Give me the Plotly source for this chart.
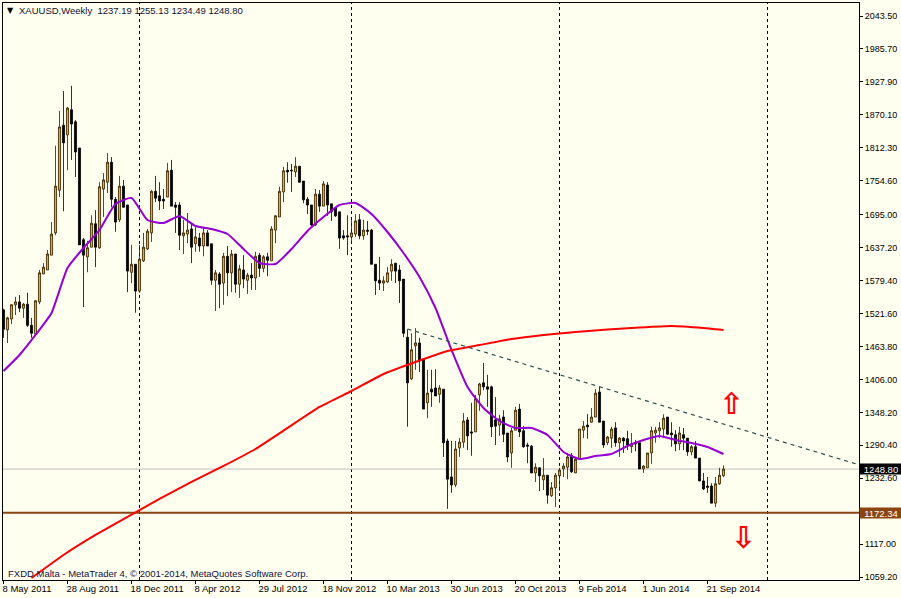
import pandas as pd
import plotly.graph_objects as go

symbol_line = "XAUUSD,Weekly  1237.19 1255.13 1234.49 1248.80"
footer_text = "FXDD Malta - MetaTrader 4, © 2001-2014, MetaQuotes Software Corp."

week_start = "2011-05-08"
n_weeks = 181

opens = [1528,1493,1512,1537,1542,1531,1538,1501,1486,1542,1591,1598,1624,1663,1738,1852,1835,1879,1858,1812,
1651,1621,1638,1679,1637,1740,1752,1787,1722,1686,1745,1712,1594,1608,1561,1614,1635,1663,1736,1728,
1722,1726,1773,1712,1712,1658,1661,1670,1644,1654,1640,1663,1644,1580,1591,1575,1622,1593,1626,1573,
1598,1580,1589,1584,1624,1601,1621,1614,1668,1691,1735,1773,1773,1770,1780,1754,1722,1712,1677,1731,
1710,1747,1714,1707,1700,1658,1658,1656,1661,1686,1658,1668,1668,1608,1580,1575,1577,1596,1610,1598,
1582,1480,1407,1465,1470,1442,1365,1389,1391,1380,1389,1298,1235,1221,1286,1296,1335,1314,1314,1379,
1400,1393,1393,1335,1326,1340,1312,1277,1317,1354,1316,1291,1289,1242,1251,1230,1238,1202,1216,1237,
1249,1252,1273,1242,1266,1317,1326,1331,1340,1384,1333,1295,1303,1321,1295,1303,1302,1288,1295,1295,
1249,1251,1277,1312,1316,1319,1340,1312,1309,1293,1309,1303,1279,1288,1268,1228,1219,1219,1189,1223,1237.19]
highs = [1530,1516,1538,1551,1554,1540,1558,1514,1545,1598,1610,1633,1682,1816,1877,1912,1884,1921,1861,1812,
1654,1649,1694,1703,1752,1768,1803,1796,1726,1763,1756,1712,1642,1608,1642,1663,1670,1738,1763,1752,
1740,1786,1791,1717,1717,1686,1698,1680,1673,1663,1672,1668,1644,1598,1594,1628,1640,1633,1626,1607,
1624,1593,1610,1630,1628,1624,1628,1675,1694,1744,1779,1787,1784,1796,1780,1754,1726,1712,1740,1738,
1754,1752,1714,1708,1700,1668,1694,1686,1696,1696,1686,1684,1670,1608,1621,1587,1603,1617,1610,1607,
1582,1494,1487,1496,1479,1442,1423,1423,1424,1396,1389,1302,1298,1298,1303,1347,1340,1365,1379,1400,
1435,1414,1395,1375,1344,1352,1312,1321,1358,1363,1324,1295,1291,1259,1252,1268,1238,1226,1242,1251,
1259,1277,1277,1270,1319,1333,1345,1356,1389,1393,1333,1307,1323,1331,1305,1305,1316,1312,1300,1296,
1256,1277,1323,1323,1331,1345,1340,1331,1317,1323,1321,1303,1291,1298,1268,1242,1235,1224,1235,1251,1255.13]
lows = [1479,1470,1503,1519,1524,1514,1498,1479,1484,1538,1591,1598,1624,1659,1726,1701,1773,1791,1761,1642,
1533,1594,1638,1603,1635,1691,1733,1708,1665,1682,1708,1559,1575,1523,1558,1612,1633,1647,1717,1703,
1705,1726,1710,1663,1633,1626,1645,1610,1630,1630,1622,1640,1572,1526,1531,1537,1552,1559,1558,1549,
1566,1556,1563,1563,1586,1594,1587,1614,1645,1691,1717,1751,1735,1761,1751,1715,1696,1675,1675,1700,
1710,1693,1684,1691,1635,1651,1624,1644,1656,1652,1651,1659,1608,1554,1563,1561,1575,1579,1575,1540,
1480,1323,1405,1423,1419,1354,1338,1358,1377,1365,1270,1179,1207,1217,1270,1286,1282,1272,1314,1351,
1387,1358,1305,1291,1307,1296,1261,1251,1317,1305,1286,1259,1242,1226,1210,1212,1188,1200,1182,1210,
1235,1231,1242,1242,1266,1303,1302,1330,1340,1331,1286,1291,1286,1288,1270,1277,1282,1277,1280,1249,
1242,1251,1258,1295,1303,1303,1309,1288,1280,1282,1282,1272,1273,1268,1228,1212,1207,1189,1182,1221,1234.49]
closes = [1494,1514,1537,1542,1531,1538,1501,1487,1544,1593,1603,1626,1661,1745,1849,1821,1882,1854,1805,1642,
1624,1637,1680,1638,1744,1756,1787,1722,1682,1745,1708,1596,1608,1561,1617,1638,1666,1736,1724,1719,
1719,1772,1710,1708,1659,1663,1668,1638,1656,1640,1663,1640,1580,1593,1573,1622,1593,1626,1573,1600,
1582,1589,1584,1622,1601,1621,1615,1670,1693,1736,1772,1770,1772,1780,1752,1721,1712,1677,1731,1710,
1749,1712,1700,1693,1654,1654,1656,1663,1684,1658,1668,1666,1608,1579,1575,1579,1593,1608,1596,1579,
1487,1400,1458,1470,1440,1354,1382,1384,1377,1391,1295,1231,1221,1284,1296,1333,1307,1312,1372,1398,
1393,1389,1323,1324,1337,1310,1270,1316,1352,1314,1288,1289,1242,1252,1237,1238,1203,1216,1238,1247,
1254,1270,1244,1266,1319,1324,1323,1340,1382,1331,1291,1305,1319,1295,1303,1298,1291,1293,1293,1249,
1254,1277,1316,1317,1321,1338,1310,1309,1293,1312,1303,1279,1288,1268,1228,1214,1217,1189,1223,1238,1248.80]

ma_fast = [1420.8,1448.9,1484,1522.6,1601.5,1636.6,1668.1,1713.8,1724.3,1685.7,1680.4,1692.7,1675.2,1669.9,1661.1,1634.8,
1610.3,1608.5,1634.8,1666.4,1690.9,1712,1715.5,1696.2,1664.6,1627.8,1585.7,1531.3,1457.7,1392.8,1355.9,1333.1,
1320.9,1320.9,1308.6,1278.8,1266.5,1271.7,1275.2,1289.3,1299.8,1306.8,1299.8,1294.5,1287.5,1275.2]
ma_slow = [1057.8,1098.1,1133.2,1164.8,1196.3,1226.2,1254.2,1284,1320.9,1357.7,1385.7,1415.6,1436.6,1455.9,1466.4,1477,
1484,1489.2,1493.6,1497.1,1499.8,1496.3,1492.7]

trend_dates = ["2013-04-14", "2015-06-14"]
trend_prices = [1494.5, 1256.0]

support_level = 1172.34
last_price = 1248.80
separator_dates = ["2012-01-01", "2013-01-06", "2014-01-05", "2015-01-04"]

price_ticks = [2043.50,1985.70,1927.90,1870.10,1812.30,1754.60,1695.00,1637.20,1579.40,1521.60,1463.80,1406.00,
               1348.20,1290.40,1232.60,1117.00,1059.20]
date_ticks = ["2011-05-08","2011-08-28","2011-12-18","2012-04-08","2012-07-29","2012-11-18","2013-03-10",
              "2013-06-30","2013-10-20","2014-02-09","2014-06-01","2014-09-21"]
date_labels = ["8 May 2011","28 Aug 2011","18 Dec 2011","8 Apr 2012","29 Jul 2012","18 Nov 2012","10 Mar 2013",
               "30 Jun 2013","20 Oct 2013","9 Feb 2014","1 Jun 2014","21 Sep 2014"]

arrow_dates = ["2014-11-02", "2014-11-23"]
arrow_prices = [1364.0, 1129.0]
arrow_glyphs = ["⇧", "⇩"]

weeks = pd.date_range(week_start, periods=n_weeks, freq="7D")
fast_x = weeks[0::4]
slow_x = list(weeks[7::8]) + [weeks[-1]]

IVORY = "#FFFFF0"
XFONT = dict(family="Liberation Sans, Arial, sans-serif", size=9.5, color="#000000")
YFONT = dict(family="Liberation Sans, Arial, sans-serif", size=9, color="#000000")

fig = go.Figure()
fig.add_trace(go.Candlestick(
    x=weeks, open=opens, high=highs, low=lows, close=closes,
    increasing=dict(line=dict(color="#2A1A00", width=0.8), fillcolor="#FFA500"),
    decreasing=dict(line=dict(color="#000000", width=0.8), fillcolor="#000000"),
    whiskerwidth=0, hoverinfo="skip", showlegend=False))
fig.add_trace(go.Scatter(x=fast_x, y=ma_fast, mode="lines", showlegend=False, hoverinfo="skip",
                         line=dict(color="#9400D3", width=2, shape="spline", smoothing=0.5)))
fig.add_trace(go.Scatter(x=slow_x, y=ma_slow, mode="lines", showlegend=False, hoverinfo="skip",
                         line=dict(color="#FF0000", width=2, shape="spline", smoothing=0.3)))
fig.add_trace(go.Scatter(x=trend_dates, y=trend_prices, mode="lines", showlegend=False, hoverinfo="skip",
                         line=dict(color="#2F4F4F", width=1.2, dash="4px,4px")))

shapes = []
for d in separator_dates:
    shapes.append(dict(type="line", xref="x", yref="paper", x0=d, x1=d, y0=0, y1=1, layer="below",
                       line=dict(color="#000000", width=1, dash="3px,3px")))
shapes.append(dict(type="line", xref="paper", yref="y", x0=0, x1=1, y0=last_price, y1=last_price, layer="below",
                   line=dict(color="#C0C0C0", width=1)))
shapes.append(dict(type="line", xref="paper", yref="y", x0=0, x1=1, y0=support_level, y1=support_level, layer="below",
                   line=dict(color="#8B4513", width=2)))

W, H, L, R, T, B = 901, 598, 3, 42, 3, 18
pw, ph = W - L - R, H - T - B

def px(x):
    return (x - L) / pw

def py(y):
    return 1 - (y - T) / ph

annotations = [
    dict(xref="paper", yref="paper", x=px(16.5), y=py(10.5), xanchor="left", yanchor="middle", showarrow=False,
         text=symbol_line.replace("  ", "&nbsp;&nbsp;"), font=dict(family="Liberation Sans", size=9.5, color="#101030")),
    dict(xref="paper", yref="paper", x=px(10), y=py(10), xanchor="center", yanchor="middle", showarrow=False,
         text="▼", font=dict(family="DejaVu Sans", size=8, color="#000000")),
    dict(xref="paper", yref="paper", x=px(5.5), y=py(573), xanchor="left", yanchor="middle", showarrow=False,
         text=footer_text, font=dict(family="Liberation Sans", size=9.5, color="#101040")),
    dict(xref="paper", yref="y", x=px(859), y=last_price, xanchor="left", yanchor="middle", showarrow=False,
         text=f"{last_price:.2f}", bgcolor="#000000", width=42, height=10, borderpad=0, align="center",
         font=dict(family="Liberation Sans", size=9.5, color="#FFFFFF")),
    dict(xref="paper", yref="y", x=px(859), y=support_level, xanchor="left", yanchor="middle", showarrow=False,
         text=f"{support_level:.2f}", bgcolor="#8B4513", width=42, height=10, borderpad=0, align="center",
         font=dict(family="Liberation Sans", size=9.5, color="#FFFFFF")),
]
for d, p, g in zip(arrow_dates, arrow_prices, arrow_glyphs):
    annotations.append(dict(x=d, y=p, xref="x", yref="y", showarrow=False, text=f"<b>{g}</b>", xanchor="center", yanchor="middle",
                            font=dict(family="DejaVu Sans", size=30, color="#FF0000")))

fig.update_layout(
    width=W, height=H, margin=dict(l=L, r=R, t=T, b=B, pad=0, autoexpand=False),
    paper_bgcolor=IVORY, plot_bgcolor=IVORY, boxgap=0.25, showlegend=False,
    shapes=shapes, annotations=annotations,
    xaxis=dict(type="date", range=["2011-05-07 03:00", "2015-06-13 03:00"], rangeslider=dict(visible=False),
               showgrid=False, zeroline=False, showline=True, mirror=True, linecolor="#000000", linewidth=1,
               ticks="outside", ticklen=3, tickcolor="#000000", tickvals=date_ticks, ticktext=date_labels,
               ticklabelposition="outside right", ticklabelshift=-2, tickangle=0, automargin=False, tickfont=XFONT),
    yaxis=dict(side="right", range=[1054.2, 2066.3], showgrid=False, zeroline=False, showline=True, mirror=True,
               linecolor="#000000", linewidth=1, ticks="outside", ticklen=3, tickcolor="#000000", automargin=False,
               tickvals=price_ticks, ticktext=[f"{v:.2f}" for v in price_ticks], tickfont=YFONT),
)

fig.write_html("out.html", config=dict(displayModeBar=False),
               post_script="document.body.style.margin='0';document.body.style.overflow='hidden';")
